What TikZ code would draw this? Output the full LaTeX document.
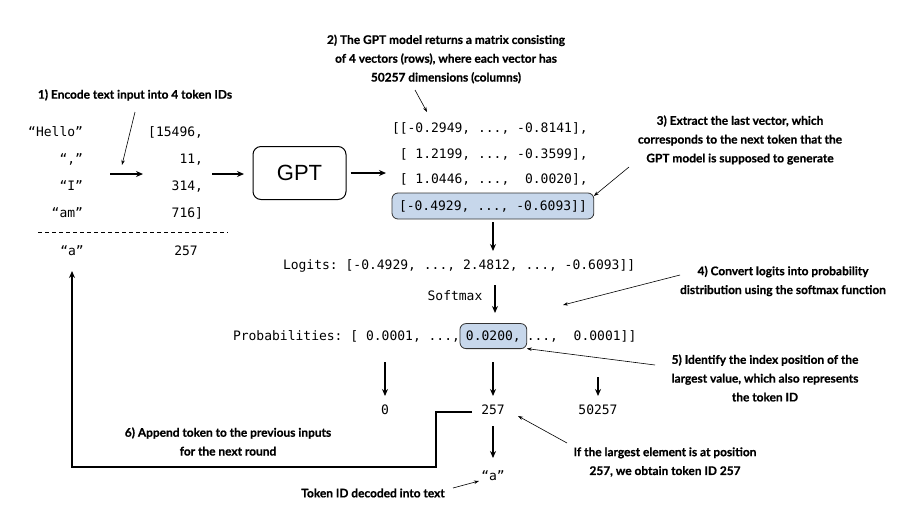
\documentclass[tikz,border=0pt]{standalone}
\usepackage{fontspec}
\setmonofont{DejaVu Sans Mono}
\newfontfamily\notefont{Lato}[BoldFeatures={FakeBold=0.6}]
\newfontfamily\gptfont{Liberation Sans}
\usetikzlibrary{arrows.meta}
\definecolor{hlblue}{HTML}{C7D7EB}
\begin{document}
\begin{tikzpicture}[x=1pt,y=-1pt,
  mono/.style={font=\ttfamily\fontsize{13}{15}\selectfont, inner sep=0pt, outer sep=0pt},
  note/.style={font=\notefont\bfseries\fontsize{11.9}{18.8}\selectfont, align=center, inner sep=0pt},
  arr/.style={-{Stealth[length=7pt,width=6pt]}, line width=1.4pt},
  thin/.style={-{Stealth[length=5pt,width=3.5pt]}, line width=0.6pt},
  hl/.style={fill=hlblue, draw=black!80, line width=0.8pt, rounded corners=6pt, outer sep=0pt}]
\useasboundingbox (0,0) rectangle (910,512);

% --- input tokens and their IDs ---
\node[mono, anchor=mid east] (w1) at (83,134) {“Hello”};
\node[mono, anchor=mid east] (w2) at (83,161) {“,”};
\node[mono, anchor=mid east] (w3) at (83,188) {“I”};
\node[mono, anchor=mid east] (w4) at (83,215) {“am”};
\node[mono, anchor=mid east] (i1) at (203,134) {[15496,};
\node[mono, anchor=mid east] (i2) at (203,161) {11,};
\node[mono, anchor=mid east] (i3) at (203,188) {314,};
\node[mono, anchor=mid east] (i4) at (203,215) {716]};
\coordinate (sepL) at (38,232);
\coordinate (sepR) at (228,232);
\draw[dash pattern=on 4pt off 3pt, line width=0.8pt] (sepL) -- (sepR);
\node[mono, anchor=mid] (wnew) at (72,253) {“a”};
\node[mono, anchor=mid] (inew) at (186,253) {257};

\coordinate (encA) at (110,174);
\coordinate (encB) at (143,174);
\draw[arr] (encA) -- (encB);

% --- model ---
\node[draw, line width=1pt, rounded corners=8pt, minimum width=93pt, minimum height=53pt,
      font=\gptfont\fontsize{22}{24}\selectfont] (gpt) at (299.5,173) {GPT};
\coordinate (inA) at (212,174);
\coordinate (inB) at (244,174);
\draw[arr] (inA) -- (inB);
\coordinate (outB) at (386,173);
\draw[arr] ([xshift=4pt]gpt.east) -- (outB);

% --- output matrix (spaces kept explicit for column alignment) ---
\node[mono, anchor=mid west] (r1) at (392,130) {[[-0.2949,\ ...,\ -0.8141],};
\node[mono, anchor=mid west] (r2) at (392,156) {\ [\ 1.2199,\ ...,\ -0.3599],};
\node[mono, anchor=mid west] (r3) at (392,181) {\ [\ 1.0446,\ ...,\ \ 0.0020],};
\node[mono, hl, anchor=west, inner xsep=7pt, minimum height=26pt] (r4) at (392,206)
  {[-0.4929,\ ...,\ -0.6093]]};

% --- logits and softmax ---
\node[mono, anchor=mid west] (logits) at (283,267) {Logits:\ [-0.4929,\ ...,\ 2.4812,\ ...,\ -0.6093]]};
\coordinate (lgA) at (493,222);
\coordinate (lgB) at (493,251);
\draw[arr] (lgA) -- (lgB);
\node[mono, anchor=mid] (softmax) at (455,298) {Softmax};
\coordinate (smA) at (495,285);
\coordinate (smB) at (495,313);
\draw[arr] (smA) -- (smB);

% --- probabilities ---
\node[mono, anchor=mid west] (pL) at (233,338) {Probabilities:\ [\ 0.0001,\ ...,};
\node[mono, hl, anchor=west, inner xsep=6pt, minimum height=25pt] (pM) at (pL.east) {0.0200,};
\node[mono, anchor=west] (pR) at (pM.east) {...,\ \ 0.0001]]};

% --- token IDs ---
\node[mono, anchor=mid] (id0) at (385,412) {0};
\node[mono, anchor=mid] (id257) at (493,412) {257};
\node[mono, anchor=mid] (idlast) at (598,412) {50257};
\coordinate (d0A) at (385,362);   \coordinate (d0B) at (385,396);
\coordinate (d1A) at (493,362);   \coordinate (d1B) at (493,396);
\coordinate (d2A) at (598,377);   \coordinate (d2B) at (598,396);
\draw[arr] (d0A) -- (d0B);
\draw[arr] (d1A) -- (d1B);
\draw[arr] (d2A) -- (d2B);

% --- decoding and feedback loop ---
\node[mono, anchor=mid] (dec) at (493,478) {“a”};
\coordinate (decA) at (493,426);
\coordinate (decB) at (493,458);
\draw[arr] (decA) -- (decB);
\coordinate (loopS) at (472,412);
\coordinate (loopE) at (72,271);
\draw[arr, line width=1.6pt, line join=miter] (loopS) -- (436,412) -- (436,467) -- (72,467) -- (loopE);

% --- annotations ---
\node[note] (n1) at (135,95) {1) Encode text input into 4 token IDs};
\coordinate (n1t) at (122,165);
\draw[thin] (135,112) -- (n1t);

\node[note] (n2) at (446,59) {2) The GPT model returns a matrix consisting\\of 4 vectors (rows), where each vector has\\50257 dimensions (columns)};
\coordinate (n2t) at (427,112);
\draw[thin] (415,90) -- (n2t);

\node[note] (n3) at (740,140) {3) Extract the last vector, which\\corresponds to the next token that the\\GPT model is supposed to generate};
\coordinate (n3s) at (629,167);
\draw[thin] (n3s) -- (r4.east |- 0,196) ;

\node[note] (n4) at (783,281) {4) Convert logits into probability\\distribution using the softmax function};
\coordinate (n4s) at (680,275);
\coordinate (n4t) at (563,305);
\draw[thin] (n4s) -- (n4t);

\node[note] (n5) at (765,378) {5) Identify the index position of the\\largest value, which also represents\\the token ID};
\coordinate (n5s) at (655,365);
\draw[thin] (n5s) -- (pM.south east);

\node[note] (n6) at (228,441.5) {6) Append token to the previous inputs\\for the next round};

\node[note] (n7) at (665,462) {If the largest element is at position\\257, we obtain token ID 257};
\coordinate (n7s) at (567,443);
\coordinate (n7t) at (518,416);
\draw[thin] (n7s) -- (n7t);

\node[note] (n8) at (373,493) {Token ID decoded into text};
\coordinate (n8s) at (453,488);
\coordinate (n8t) at (479,481);
\draw[thin] (n8s) -- (n8t);
\end{tikzpicture}
\end{document}
